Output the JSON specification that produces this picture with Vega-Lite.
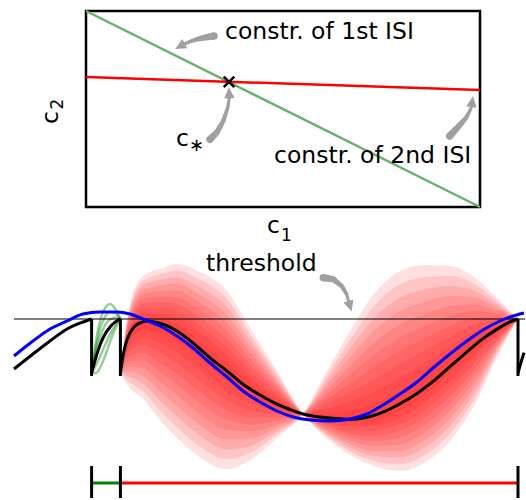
{
"$schema":"https://vega.github.io/schema/vega-lite/v6.json",
"padding":{"left":8,"top":4,"right":0,"bottom":0},
"bounds":"flush",
"spacing":44,
"config":{"font":"DejaVu Sans","view":{"stroke":null}},
"datasets":{
"gline":[{"c1":0,"c2":1},{"c1":1,"c2":0}],
"rline":[{"c1":0,"c2":0.663},{"c1":1,"c2":0.597}],
"cstar":[{"c1":0.363,"c2":0.638}],
"tlabels":[{"c1":0.3528,"c2":0.8571,"label":"constr. of 1st ISI"},{"c1":0.4772,"c2":0.2245,"label":"constr. of 2nd ISI"},{"c1":0.2284,"c2":0.3112,"label":"c"},{"c1":0.4594,"c2":-0.1327,"label":"c"}],
"tsub":[{"c1":0.2805,"c2":0.3112,"label":"∗"}],
"tsub1":[{"c1":0.4949,"c2":-0.1735,"label":"1"}],
"ylab":[{"c1":-0.0718,"c2":0.4235,"label":"c"}],
"ylab2":[{"c1":-0.0596,"c2":0.4974,"label":"2"}],
"tarrows":[
{"a":1,"o":1,"c1":0.3249,"c2":0.8724},{"a":1,"o":2,"c1":0.302,"c2":0.8648},{"a":1,"o":3,"c1":0.2792,"c2":0.8546},{"a":1,"o":4,"c1":0.2614,"c2":0.8418},{"a":1,"o":5,"c1":0.2487,"c2":0.8316},
{"a":2,"o":1,"c1":0.3147,"c2":0.3454},{"a":2,"o":2,"c1":0.3317,"c2":0.3791},{"a":2,"o":3,"c1":0.3485,"c2":0.4388},{"a":2,"o":4,"c1":0.3596,"c2":0.5066},{"a":2,"o":5,"c1":0.3637,"c2":0.5561},
{"a":3,"o":1,"c1":0.9231,"c2":0.3622},{"a":3,"o":2,"c1":0.9442,"c2":0.4082},{"a":3,"o":3,"c1":0.9645,"c2":0.4541},{"a":3,"o":4,"c1":0.9739,"c2":0.4898},{"a":3,"o":5,"c1":0.9784,"c2":0.5102}],
"h1":[{"c1":0.2386,"c2":0.8202}],
"h2":[{"c1":0.3633,"c2":0.5829}],
"h3":[{"c1":0.9803,"c2":0.5383}],
"h4":[{"t":84,"v":16.2}],
"barrow":[{"a":4,"o":1,"t":77.33,"v":23.33},{"a":4,"o":2,"t":79.83,"v":22.93},{"a":4,"o":3,"t":81.93,"v":21.25},{"a":4,"o":4,"t":83.18,"v":19.18},{"a":4,"o":5,"t":83.6,"v":17.6}],
"blabels":[{"t":48,"v":25,"label":"threshold"}],
"thr":[{"t":0,"t2":127.8,"v":13}],
"gbar":[{"t":19.4,"t2":26.6,"v":-28}],
"rbar":[{"t":26.6,"t2":126,"v":-28}],
"ticks":[{"t":19.4,"v":-23.75,"v2":-31.75},{"t":26.6,"v":-23.75,"v2":-31.75},{"t":126,"v":-23.75,"v2":-31.75}],
"resets":[{"t":19.4,"v":13,"v2":-1.25},{"t":26.6,"v":13,"v2":-1.25},{"t":126,"v":13,"v2":-1.25}],
"blue":[{"t":0,"v":3.75},{"t":4.75,"v":7.5},{"t":9,"v":10.5},{"t":13.25,"v":12.5},{"t":17.25,"v":14.25},{"t":21.5,"v":14.75},{"t":25.75,"v":14.75},{"t":29,"v":14.25},{"t":32.25,"v":13},{"t":36.5,"v":11.25},{"t":40.75,"v":8.75},{"t":44.75,"v":5.75},{"t":49,"v":2},{"t":53.25,"v":-1.5},{"t":57.25,"v":-5},{"t":61.5,"v":-7.75},{"t":65.75,"v":-10},{"t":69.75,"v":-11.5},{"t":74,"v":-12.25},{"t":79,"v":-12.5},{"t":84,"v":-12},{"t":88.25,"v":-10.75},{"t":92.25,"v":-8.5},{"t":96.5,"v":-5.75},{"t":100.75,"v":-2.75},{"t":104.75,"v":0.75},{"t":109,"v":4.25},{"t":113.25,"v":7.5},{"t":117.25,"v":10.25},{"t":121.5,"v":12.5},{"t":124.75,"v":13.75},{"t":127.5,"v":14.5}],
"black":[
{"s":1,"t":0,"v":0.5},{"s":1,"t":4.75,"v":4.25},{"s":1,"t":9,"v":7.5},{"s":1,"t":13.25,"v":10.5},{"s":1,"t":17.25,"v":12.25},{"s":1,"t":19.4,"v":13},
{"s":2,"t":19.4,"v":-0.5},{"s":2,"t":20.5,"v":3.5},{"s":2,"t":21.5,"v":6.5},{"s":2,"t":22.5,"v":8.75},{"s":2,"t":24,"v":11},{"s":2,"t":25.5,"v":12.4},{"s":2,"t":26.6,"v":13},
{"s":3,"t":26.6,"v":-0.5},{"s":3,"t":27.25,"v":3.75},{"s":3,"t":28,"v":7},{"s":3,"t":29,"v":9.5},{"s":3,"t":30.25,"v":11.25},{"s":3,"t":31.75,"v":12.1},{"s":3,"t":33.25,"v":12.5},{"s":3,"t":34.75,"v":12.3},{"s":3,"t":37.75,"v":11.5},{"s":3,"t":40.75,"v":10},{"s":3,"t":44.75,"v":7},{"s":3,"t":49,"v":3.3},{"s":3,"t":53.25,"v":0},{"s":3,"t":57.25,"v":-3.3},{"s":3,"t":61.5,"v":-6},{"s":3,"t":65.75,"v":-8.3},{"s":3,"t":69.75,"v":-9.9},{"s":3,"t":72.25,"v":-10.75},{"s":3,"t":76.5,"v":-11.5},{"s":3,"t":80.25,"v":-11.9},{"s":3,"t":84,"v":-12.1},{"s":3,"t":88.25,"v":-11.6},{"s":3,"t":92.25,"v":-10.3},{"s":3,"t":96.5,"v":-8.2},{"s":3,"t":100.75,"v":-5.6},{"s":3,"t":104.75,"v":-2.6},{"s":3,"t":109,"v":1.1},{"s":3,"t":113.25,"v":4.8},{"s":3,"t":117.25,"v":8.1},{"s":3,"t":121.5,"v":10.9},{"s":3,"t":124,"v":12.3},{"s":3,"t":126,"v":13},
{"s":4,"t":126,"v":-0.5},{"s":4,"t":127,"v":3},{"s":4,"t":127.5,"v":4.6}],
"green":[
{"g":1,"t":19.4,"v":-0.5},{"g":1,"t":20.5,"v":7.5},{"g":1,"t":21.5,"v":12.5},{"g":1,"t":22.5,"v":15.25},{"g":1,"t":24,"v":16.75},{"g":1,"t":25.5,"v":15.25},{"g":1,"t":26.6,"v":13},
{"g":2,"t":19.4,"v":-0.5},{"g":2,"t":20.5,"v":6.15},{"g":2,"t":21.5,"v":10.5},{"g":2,"t":22.5,"v":13.05},{"g":2,"t":24,"v":14.8},{"g":2,"t":25.5,"v":14.3},{"g":2,"t":26.6,"v":13},
{"g":3,"t":19.4,"v":-0.5},{"g":3,"t":20.5,"v":4.8},{"g":3,"t":21.5,"v":8.5},{"g":3,"t":22.5,"v":10.9},{"g":3,"t":24,"v":12.9},{"g":3,"t":25.5,"v":13.35},{"g":3,"t":26.6,"v":13},
{"g":4,"t":19.4,"v":-0.5},{"g":4,"t":20.5,"v":1.5},{"g":4,"t":21.5,"v":3.6},{"g":4,"t":22.5,"v":5.9},{"g":4,"t":24,"v":9.1},{"g":4,"t":25.5,"v":11.7},{"g":4,"t":26.6,"v":13},
{"g":5,"t":19.4,"v":-0.5},{"g":5,"t":20.5,"v":-0.5},{"g":5,"t":21.5,"v":0.75},{"g":5,"t":22.5,"v":3},{"g":5,"t":24,"v":7.25},{"g":5,"t":25.5,"v":11},{"g":5,"t":26.6,"v":13}],
"fan":[
{"k":"A1","t":26.6,"v":-0.5,"b":-0.5},{"k":"A1","t":28.5,"v":9.1,"b":8.5},{"k":"A1","t":32.25,"v":13.4,"b":12.25},{"k":"A1","t":36.5,"v":13.13,"b":11.75},{"k":"A1","t":40.75,"v":11.68,"b":10},{"k":"A1","t":46,"v":7.9,"b":6},{"k":"A1","t":53.25,"v":2,"b":0},{"k":"A1","t":59.5,"v":-3.28,"b":-4.75},{"k":"A1","t":65.75,"v":-7.43,"b":-8.25},{"k":"A1","t":72.25,"v":-10.75,"b":-10.75},{"k":"A1","t":78.5,"v":-12.28,"b":-11.75},{"k":"A1","t":84,"v":-12.9,"b":-12},{"k":"A1","t":90,"v":-12.5,"b":-11.25},{"k":"A1","t":96.5,"v":-9.93,"b":-8.25},{"k":"A1","t":102.5,"v":-6.13,"b":-4.25},{"k":"A1","t":109,"v":-0.63,"b":1.25},{"k":"A1","t":115,"v":4.98,"b":6.5},{"k":"A1","t":121.5,"v":10.18,"b":10.75},{"k":"A1","t":126,"v":13,"b":13},
{"k":"A2","t":26.6,"v":-0.5,"b":-0.5},{"k":"A2","t":28.5,"v":9.7,"b":8.5},{"k":"A2","t":32.25,"v":14.55,"b":12.25},{"k":"A2","t":36.5,"v":14.5,"b":11.75},{"k":"A2","t":40.75,"v":13.35,"b":10},{"k":"A2","t":46,"v":9.8,"b":6},{"k":"A2","t":53.25,"v":4,"b":0},{"k":"A2","t":59.5,"v":-1.8,"b":-4.75},{"k":"A2","t":65.75,"v":-6.6,"b":-8.25},{"k":"A2","t":72.25,"v":-10.75,"b":-10.75},{"k":"A2","t":78.5,"v":-12.8,"b":-11.75},{"k":"A2","t":84,"v":-13.8,"b":-12},{"k":"A2","t":90,"v":-13.75,"b":-11.25},{"k":"A2","t":96.5,"v":-11.6,"b":-8.25},{"k":"A2","t":102.5,"v":-8,"b":-4.25},{"k":"A2","t":109,"v":-2.5,"b":1.25},{"k":"A2","t":115,"v":3.45,"b":6.5},{"k":"A2","t":121.5,"v":9.6,"b":10.75},{"k":"A2","t":126,"v":13,"b":13},
{"k":"A3","t":26.6,"v":-0.5,"b":-0.5},{"k":"A3","t":28.5,"v":10.3,"b":8.5},{"k":"A3","t":32.25,"v":15.7,"b":12.25},{"k":"A3","t":36.5,"v":15.88,"b":11.75},{"k":"A3","t":40.75,"v":15.03,"b":10},{"k":"A3","t":46,"v":11.7,"b":6},{"k":"A3","t":53.25,"v":6,"b":0},{"k":"A3","t":59.5,"v":-0.33,"b":-4.75},{"k":"A3","t":65.75,"v":-5.78,"b":-8.25},{"k":"A3","t":72.25,"v":-10.75,"b":-10.75},{"k":"A3","t":78.5,"v":-13.33,"b":-11.75},{"k":"A3","t":84,"v":-14.7,"b":-12},{"k":"A3","t":90,"v":-15,"b":-11.25},{"k":"A3","t":96.5,"v":-13.28,"b":-8.25},{"k":"A3","t":102.5,"v":-9.88,"b":-4.25},{"k":"A3","t":109,"v":-4.38,"b":1.25},{"k":"A3","t":115,"v":1.93,"b":6.5},{"k":"A3","t":121.5,"v":9.03,"b":10.75},{"k":"A3","t":126,"v":13,"b":13},
{"k":"A4","t":26.6,"v":-0.5,"b":-0.5},{"k":"A4","t":28.5,"v":10.9,"b":8.5},{"k":"A4","t":32.25,"v":16.85,"b":12.25},{"k":"A4","t":36.5,"v":17.25,"b":11.75},{"k":"A4","t":40.75,"v":16.7,"b":10},{"k":"A4","t":46,"v":13.6,"b":6},{"k":"A4","t":53.25,"v":8,"b":0},{"k":"A4","t":59.5,"v":1.15,"b":-4.75},{"k":"A4","t":65.75,"v":-4.95,"b":-8.25},{"k":"A4","t":72.25,"v":-10.75,"b":-10.75},{"k":"A4","t":78.5,"v":-13.85,"b":-11.75},{"k":"A4","t":84,"v":-15.6,"b":-12},{"k":"A4","t":90,"v":-16.25,"b":-11.25},{"k":"A4","t":96.5,"v":-14.95,"b":-8.25},{"k":"A4","t":102.5,"v":-11.75,"b":-4.25},{"k":"A4","t":109,"v":-6.25,"b":1.25},{"k":"A4","t":115,"v":0.4,"b":6.5},{"k":"A4","t":121.5,"v":8.45,"b":10.75},{"k":"A4","t":126,"v":13,"b":13},
{"k":"A5","t":26.6,"v":-0.5,"b":-0.5},{"k":"A5","t":28.5,"v":11.5,"b":8.5},{"k":"A5","t":32.25,"v":18,"b":12.25},{"k":"A5","t":36.5,"v":18.63,"b":11.75},{"k":"A5","t":40.75,"v":18.38,"b":10},{"k":"A5","t":46,"v":15.5,"b":6},{"k":"A5","t":53.25,"v":10,"b":0},{"k":"A5","t":59.5,"v":2.63,"b":-4.75},{"k":"A5","t":65.75,"v":-4.13,"b":-8.25},{"k":"A5","t":72.25,"v":-10.75,"b":-10.75},{"k":"A5","t":78.5,"v":-14.38,"b":-11.75},{"k":"A5","t":84,"v":-16.5,"b":-12},{"k":"A5","t":90,"v":-17.5,"b":-11.25},{"k":"A5","t":96.5,"v":-16.63,"b":-8.25},{"k":"A5","t":102.5,"v":-13.63,"b":-4.25},{"k":"A5","t":109,"v":-8.13,"b":1.25},{"k":"A5","t":115,"v":-1.13,"b":6.5},{"k":"A5","t":121.5,"v":7.88,"b":10.75},{"k":"A5","t":126,"v":13,"b":13},
{"k":"A6","t":26.6,"v":-0.5,"b":-0.5},{"k":"A6","t":28.5,"v":12.1,"b":8.5},{"k":"A6","t":32.25,"v":19.15,"b":12.25},{"k":"A6","t":36.5,"v":20,"b":11.75},{"k":"A6","t":40.75,"v":20.05,"b":10},{"k":"A6","t":46,"v":17.4,"b":6},{"k":"A6","t":53.25,"v":12,"b":0},{"k":"A6","t":59.5,"v":4.1,"b":-4.75},{"k":"A6","t":65.75,"v":-3.3,"b":-8.25},{"k":"A6","t":72.25,"v":-10.75,"b":-10.75},{"k":"A6","t":78.5,"v":-14.9,"b":-11.75},{"k":"A6","t":84,"v":-17.4,"b":-12},{"k":"A6","t":90,"v":-18.75,"b":-11.25},{"k":"A6","t":96.5,"v":-18.3,"b":-8.25},{"k":"A6","t":102.5,"v":-15.5,"b":-4.25},{"k":"A6","t":109,"v":-10,"b":1.25},{"k":"A6","t":115,"v":-2.65,"b":6.5},{"k":"A6","t":121.5,"v":7.3,"b":10.75},{"k":"A6","t":126,"v":13,"b":13},
{"k":"A7","t":26.6,"v":-0.5,"b":-0.5},{"k":"A7","t":28.5,"v":12.7,"b":8.5},{"k":"A7","t":32.25,"v":20.3,"b":12.25},{"k":"A7","t":36.5,"v":21.38,"b":11.75},{"k":"A7","t":40.75,"v":21.73,"b":10},{"k":"A7","t":46,"v":19.3,"b":6},{"k":"A7","t":53.25,"v":14,"b":0},{"k":"A7","t":59.5,"v":5.58,"b":-4.75},{"k":"A7","t":65.75,"v":-2.48,"b":-8.25},{"k":"A7","t":72.25,"v":-10.75,"b":-10.75},{"k":"A7","t":78.5,"v":-15.43,"b":-11.75},{"k":"A7","t":84,"v":-18.3,"b":-12},{"k":"A7","t":90,"v":-20,"b":-11.25},{"k":"A7","t":96.5,"v":-19.98,"b":-8.25},{"k":"A7","t":102.5,"v":-17.38,"b":-4.25},{"k":"A7","t":109,"v":-11.88,"b":1.25},{"k":"A7","t":115,"v":-4.18,"b":6.5},{"k":"A7","t":121.5,"v":6.73,"b":10.75},{"k":"A7","t":126,"v":13,"b":13},
{"k":"A8","t":26.6,"v":-0.5,"b":-0.5},{"k":"A8","t":28.5,"v":13.3,"b":8.5},{"k":"A8","t":32.25,"v":21.45,"b":12.25},{"k":"A8","t":36.5,"v":22.75,"b":11.75},{"k":"A8","t":40.75,"v":23.4,"b":10},{"k":"A8","t":46,"v":21.2,"b":6},{"k":"A8","t":53.25,"v":16,"b":0},{"k":"A8","t":59.5,"v":7.05,"b":-4.75},{"k":"A8","t":65.75,"v":-1.65,"b":-8.25},{"k":"A8","t":72.25,"v":-10.75,"b":-10.75},{"k":"A8","t":78.5,"v":-15.95,"b":-11.75},{"k":"A8","t":84,"v":-19.2,"b":-12},{"k":"A8","t":90,"v":-21.25,"b":-11.25},{"k":"A8","t":96.5,"v":-21.65,"b":-8.25},{"k":"A8","t":102.5,"v":-19.25,"b":-4.25},{"k":"A8","t":109,"v":-13.75,"b":1.25},{"k":"A8","t":115,"v":-5.7,"b":6.5},{"k":"A8","t":121.5,"v":6.15,"b":10.75},{"k":"A8","t":126,"v":13,"b":13},
{"k":"A9","t":26.6,"v":-0.5,"b":-0.5},{"k":"A9","t":28.5,"v":13.9,"b":8.5},{"k":"A9","t":32.25,"v":22.6,"b":12.25},{"k":"A9","t":36.5,"v":24.13,"b":11.75},{"k":"A9","t":40.75,"v":25.08,"b":10},{"k":"A9","t":46,"v":23.1,"b":6},{"k":"A9","t":53.25,"v":18,"b":0},{"k":"A9","t":59.5,"v":8.53,"b":-4.75},{"k":"A9","t":65.75,"v":-0.83,"b":-8.25},{"k":"A9","t":72.25,"v":-10.75,"b":-10.75},{"k":"A9","t":78.5,"v":-16.48,"b":-11.75},{"k":"A9","t":84,"v":-20.1,"b":-12},{"k":"A9","t":90,"v":-22.5,"b":-11.25},{"k":"A9","t":96.5,"v":-23.33,"b":-8.25},{"k":"A9","t":102.5,"v":-21.13,"b":-4.25},{"k":"A9","t":109,"v":-15.63,"b":1.25},{"k":"A9","t":115,"v":-7.23,"b":6.5},{"k":"A9","t":121.5,"v":5.58,"b":10.75},{"k":"A9","t":126,"v":13,"b":13},
{"k":"A10","t":26.6,"v":-0.5,"b":-0.5},{"k":"A10","t":28.5,"v":14.5,"b":8.5},{"k":"A10","t":32.25,"v":23.75,"b":12.25},{"k":"A10","t":36.5,"v":25.5,"b":11.75},{"k":"A10","t":40.75,"v":26.75,"b":10},{"k":"A10","t":46,"v":25,"b":6},{"k":"A10","t":53.25,"v":20,"b":0},{"k":"A10","t":59.5,"v":10,"b":-4.75},{"k":"A10","t":65.75,"v":0,"b":-8.25},{"k":"A10","t":72.25,"v":-10.75,"b":-10.75},{"k":"A10","t":78.5,"v":-17,"b":-11.75},{"k":"A10","t":84,"v":-21,"b":-12},{"k":"A10","t":90,"v":-23.75,"b":-11.25},{"k":"A10","t":96.5,"v":-25,"b":-8.25},{"k":"A10","t":102.5,"v":-23,"b":-4.25},{"k":"A10","t":109,"v":-17.5,"b":1.25},{"k":"A10","t":115,"v":-8.75,"b":6.5},{"k":"A10","t":121.5,"v":5,"b":10.75},{"k":"A10","t":126,"v":13,"b":13},
{"k":"B1","t":26.6,"v":-0.5,"b":-0.5},{"k":"B1","t":28.5,"v":7.28,"b":8.5},{"k":"B1","t":32.25,"v":10.33,"b":12.25},{"k":"B1","t":36.5,"v":9.35,"b":11.75},{"k":"B1","t":40.75,"v":7.33,"b":10},{"k":"B1","t":46,"v":3.28,"b":6},{"k":"B1","t":53.25,"v":-2.45,"b":0},{"k":"B1","t":59.5,"v":-6.48,"b":-4.75},{"k":"B1","t":65.75,"v":-9.1,"b":-8.25},{"k":"B1","t":72.25,"v":-10.75,"b":-10.75},{"k":"B1","t":78.5,"v":-10.53,"b":-11.75},{"k":"B1","t":84,"v":-9.8,"b":-12},{"k":"B1","t":90,"v":-8.2,"b":-11.25},{"k":"B1","t":96.5,"v":-4.93,"b":-8.25},{"k":"B1","t":102.5,"v":-1.18,"b":-4.25},{"k":"B1","t":109,"v":3.75,"b":1.25},{"k":"B1","t":115,"v":8.2,"b":6.5},{"k":"B1","t":121.5,"v":11.43,"b":10.75},{"k":"B1","t":126,"v":13,"b":13},
{"k":"B2","t":26.6,"v":-0.5,"b":-0.5},{"k":"B2","t":28.5,"v":6.05,"b":8.5},{"k":"B2","t":32.25,"v":8.4,"b":12.25},{"k":"B2","t":36.5,"v":6.95,"b":11.75},{"k":"B2","t":40.75,"v":4.65,"b":10},{"k":"B2","t":46,"v":0.55,"b":6},{"k":"B2","t":53.25,"v":-4.9,"b":0},{"k":"B2","t":59.5,"v":-8.2,"b":-4.75},{"k":"B2","t":65.75,"v":-9.95,"b":-8.25},{"k":"B2","t":72.25,"v":-10.75,"b":-10.75},{"k":"B2","t":78.5,"v":-9.3,"b":-11.75},{"k":"B2","t":84,"v":-7.6,"b":-12},{"k":"B2","t":90,"v":-5.15,"b":-11.25},{"k":"B2","t":96.5,"v":-1.6,"b":-8.25},{"k":"B2","t":102.5,"v":1.9,"b":-4.25},{"k":"B2","t":109,"v":6.25,"b":1.25},{"k":"B2","t":115,"v":9.9,"b":6.5},{"k":"B2","t":121.5,"v":12.1,"b":10.75},{"k":"B2","t":126,"v":13,"b":13},
{"k":"B3","t":26.6,"v":-0.5,"b":-0.5},{"k":"B3","t":28.5,"v":4.83,"b":8.5},{"k":"B3","t":32.25,"v":6.48,"b":12.25},{"k":"B3","t":36.5,"v":4.55,"b":11.75},{"k":"B3","t":40.75,"v":1.98,"b":10},{"k":"B3","t":46,"v":-2.18,"b":6},{"k":"B3","t":53.25,"v":-7.35,"b":0},{"k":"B3","t":59.5,"v":-9.93,"b":-4.75},{"k":"B3","t":65.75,"v":-10.8,"b":-8.25},{"k":"B3","t":72.25,"v":-10.75,"b":-10.75},{"k":"B3","t":78.5,"v":-8.08,"b":-11.75},{"k":"B3","t":84,"v":-5.4,"b":-12},{"k":"B3","t":90,"v":-2.1,"b":-11.25},{"k":"B3","t":96.5,"v":1.73,"b":-8.25},{"k":"B3","t":102.5,"v":4.98,"b":-4.25},{"k":"B3","t":109,"v":8.75,"b":1.25},{"k":"B3","t":115,"v":11.6,"b":6.5},{"k":"B3","t":121.5,"v":12.78,"b":10.75},{"k":"B3","t":126,"v":13,"b":13},
{"k":"B4","t":26.6,"v":-0.5,"b":-0.5},{"k":"B4","t":28.5,"v":3.6,"b":8.5},{"k":"B4","t":32.25,"v":4.55,"b":12.25},{"k":"B4","t":36.5,"v":2.15,"b":11.75},{"k":"B4","t":40.75,"v":-0.7,"b":10},{"k":"B4","t":46,"v":-4.9,"b":6},{"k":"B4","t":53.25,"v":-9.8,"b":0},{"k":"B4","t":59.5,"v":-11.65,"b":-4.75},{"k":"B4","t":65.75,"v":-11.65,"b":-8.25},{"k":"B4","t":72.25,"v":-10.75,"b":-10.75},{"k":"B4","t":78.5,"v":-6.85,"b":-11.75},{"k":"B4","t":84,"v":-3.2,"b":-12},{"k":"B4","t":90,"v":0.95,"b":-11.25},{"k":"B4","t":96.5,"v":5.05,"b":-8.25},{"k":"B4","t":102.5,"v":8.05,"b":-4.25},{"k":"B4","t":109,"v":11.25,"b":1.25},{"k":"B4","t":115,"v":13.3,"b":6.5},{"k":"B4","t":121.5,"v":13.45,"b":10.75},{"k":"B4","t":126,"v":13,"b":13},
{"k":"B5","t":26.6,"v":-0.5,"b":-0.5},{"k":"B5","t":28.5,"v":2.38,"b":8.5},{"k":"B5","t":32.25,"v":2.63,"b":12.25},{"k":"B5","t":36.5,"v":-0.25,"b":11.75},{"k":"B5","t":40.75,"v":-3.38,"b":10},{"k":"B5","t":46,"v":-7.63,"b":6},{"k":"B5","t":53.25,"v":-12.25,"b":0},{"k":"B5","t":59.5,"v":-13.38,"b":-4.75},{"k":"B5","t":65.75,"v":-12.5,"b":-8.25},{"k":"B5","t":72.25,"v":-10.75,"b":-10.75},{"k":"B5","t":78.5,"v":-5.63,"b":-11.75},{"k":"B5","t":84,"v":-1,"b":-12},{"k":"B5","t":90,"v":4,"b":-11.25},{"k":"B5","t":96.5,"v":8.38,"b":-8.25},{"k":"B5","t":102.5,"v":11.13,"b":-4.25},{"k":"B5","t":109,"v":13.75,"b":1.25},{"k":"B5","t":115,"v":15,"b":6.5},{"k":"B5","t":121.5,"v":14.13,"b":10.75},{"k":"B5","t":126,"v":13,"b":13},
{"k":"B6","t":26.6,"v":-0.5,"b":-0.5},{"k":"B6","t":28.5,"v":1.15,"b":8.5},{"k":"B6","t":32.25,"v":0.7,"b":12.25},{"k":"B6","t":36.5,"v":-2.65,"b":11.75},{"k":"B6","t":40.75,"v":-6.05,"b":10},{"k":"B6","t":46,"v":-10.35,"b":6},{"k":"B6","t":53.25,"v":-14.7,"b":0},{"k":"B6","t":59.5,"v":-15.1,"b":-4.75},{"k":"B6","t":65.75,"v":-13.35,"b":-8.25},{"k":"B6","t":72.25,"v":-10.75,"b":-10.75},{"k":"B6","t":78.5,"v":-4.4,"b":-11.75},{"k":"B6","t":84,"v":1.2,"b":-12},{"k":"B6","t":90,"v":7.05,"b":-11.25},{"k":"B6","t":96.5,"v":11.7,"b":-8.25},{"k":"B6","t":102.5,"v":14.2,"b":-4.25},{"k":"B6","t":109,"v":16.25,"b":1.25},{"k":"B6","t":115,"v":16.7,"b":6.5},{"k":"B6","t":121.5,"v":14.8,"b":10.75},{"k":"B6","t":126,"v":13,"b":13},
{"k":"B7","t":26.6,"v":-0.5,"b":-0.5},{"k":"B7","t":28.5,"v":-0.08,"b":8.5},{"k":"B7","t":32.25,"v":-1.23,"b":12.25},{"k":"B7","t":36.5,"v":-5.05,"b":11.75},{"k":"B7","t":40.75,"v":-8.73,"b":10},{"k":"B7","t":46,"v":-13.08,"b":6},{"k":"B7","t":53.25,"v":-17.15,"b":0},{"k":"B7","t":59.5,"v":-16.83,"b":-4.75},{"k":"B7","t":65.75,"v":-14.2,"b":-8.25},{"k":"B7","t":72.25,"v":-10.75,"b":-10.75},{"k":"B7","t":78.5,"v":-3.18,"b":-11.75},{"k":"B7","t":84,"v":3.4,"b":-12},{"k":"B7","t":90,"v":10.1,"b":-11.25},{"k":"B7","t":96.5,"v":15.03,"b":-8.25},{"k":"B7","t":102.5,"v":17.28,"b":-4.25},{"k":"B7","t":109,"v":18.75,"b":1.25},{"k":"B7","t":115,"v":18.4,"b":6.5},{"k":"B7","t":121.5,"v":15.48,"b":10.75},{"k":"B7","t":126,"v":13,"b":13},
{"k":"B8","t":26.6,"v":-0.5,"b":-0.5},{"k":"B8","t":28.5,"v":-1.3,"b":8.5},{"k":"B8","t":32.25,"v":-3.15,"b":12.25},{"k":"B8","t":36.5,"v":-7.45,"b":11.75},{"k":"B8","t":40.75,"v":-11.4,"b":10},{"k":"B8","t":46,"v":-15.8,"b":6},{"k":"B8","t":53.25,"v":-19.6,"b":0},{"k":"B8","t":59.5,"v":-18.55,"b":-4.75},{"k":"B8","t":65.75,"v":-15.05,"b":-8.25},{"k":"B8","t":72.25,"v":-10.75,"b":-10.75},{"k":"B8","t":78.5,"v":-1.95,"b":-11.75},{"k":"B8","t":84,"v":5.6,"b":-12},{"k":"B8","t":90,"v":13.15,"b":-11.25},{"k":"B8","t":96.5,"v":18.35,"b":-8.25},{"k":"B8","t":102.5,"v":20.35,"b":-4.25},{"k":"B8","t":109,"v":21.25,"b":1.25},{"k":"B8","t":115,"v":20.1,"b":6.5},{"k":"B8","t":121.5,"v":16.15,"b":10.75},{"k":"B8","t":126,"v":13,"b":13},
{"k":"B9","t":26.6,"v":-0.5,"b":-0.5},{"k":"B9","t":28.5,"v":-2.53,"b":8.5},{"k":"B9","t":32.25,"v":-5.08,"b":12.25},{"k":"B9","t":36.5,"v":-9.85,"b":11.75},{"k":"B9","t":40.75,"v":-14.08,"b":10},{"k":"B9","t":46,"v":-18.53,"b":6},{"k":"B9","t":53.25,"v":-22.05,"b":0},{"k":"B9","t":59.5,"v":-20.28,"b":-4.75},{"k":"B9","t":65.75,"v":-15.9,"b":-8.25},{"k":"B9","t":72.25,"v":-10.75,"b":-10.75},{"k":"B9","t":78.5,"v":-0.73,"b":-11.75},{"k":"B9","t":84,"v":7.8,"b":-12},{"k":"B9","t":90,"v":16.2,"b":-11.25},{"k":"B9","t":96.5,"v":21.68,"b":-8.25},{"k":"B9","t":102.5,"v":23.43,"b":-4.25},{"k":"B9","t":109,"v":23.75,"b":1.25},{"k":"B9","t":115,"v":21.8,"b":6.5},{"k":"B9","t":121.5,"v":16.83,"b":10.75},{"k":"B9","t":126,"v":13,"b":13},
{"k":"B10","t":26.6,"v":-0.5,"b":-0.5},{"k":"B10","t":28.5,"v":-3.75,"b":8.5},{"k":"B10","t":32.25,"v":-7,"b":12.25},{"k":"B10","t":36.5,"v":-12.25,"b":11.75},{"k":"B10","t":40.75,"v":-16.75,"b":10},{"k":"B10","t":46,"v":-21.25,"b":6},{"k":"B10","t":53.25,"v":-24.5,"b":0},{"k":"B10","t":59.5,"v":-22,"b":-4.75},{"k":"B10","t":65.75,"v":-16.75,"b":-8.25},{"k":"B10","t":72.25,"v":-10.75,"b":-10.75},{"k":"B10","t":78.5,"v":0.5,"b":-11.75},{"k":"B10","t":84,"v":10,"b":-12},{"k":"B10","t":90,"v":19.25,"b":-11.25},{"k":"B10","t":96.5,"v":25,"b":-8.25},{"k":"B10","t":102.5,"v":26.5,"b":-4.25},{"k":"B10","t":109,"v":26.25,"b":1.25},{"k":"B10","t":115,"v":23.5,"b":6.5},{"k":"B10","t":121.5,"v":17.5,"b":10.75},{"k":"B10","t":126,"v":13,"b":13}]
},
"vconcat":[
{"width":394,"height":196,"view":{"stroke":"black","strokeWidth":2.5},
"encoding":{
"x":{"field":"c1","type":"quantitative","scale":{"domain":[0,1],"nice":false,"zero":false},"axis":null},
"y":{"field":"c2","type":"quantitative","scale":{"domain":[0,1],"nice":false,"zero":false},"axis":null}},
"layer":[
{"data":{"name":"gline"},"mark":{"type":"line","color":"#66b366","strokeWidth":2.5}},
{"data":{"name":"rline"},"mark":{"type":"line","color":"#ff0000","strokeWidth":2.5}},
{"data":{"name":"cstar"},"mark":{"type":"point","shape":"M-1,-1L1,1M-1,1L1,-1","filled":false,"color":"black","strokeWidth":2.5,"size":110,"opacity":1}},
{"data":{"name":"tlabels"},"mark":{"type":"text","fontSize":23.5,"align":"left","baseline":"alphabetic","color":"black"},"encoding":{"text":{"field":"label"}}},
{"data":{"name":"tsub"},"mark":{"type":"text","fontSize":18,"align":"center","baseline":"middle","color":"black"},"encoding":{"text":{"field":"label"}}},
{"data":{"name":"tsub1"},"mark":{"type":"text","fontSize":17,"align":"left","baseline":"alphabetic","color":"black"},"encoding":{"text":{"field":"label"}}},
{"data":{"name":"ylab"},"mark":{"type":"text","fontSize":23.5,"align":"left","baseline":"alphabetic","angle":270,"color":"black"},"encoding":{"text":{"field":"label"}}},
{"data":{"name":"ylab2"},"mark":{"type":"text","fontSize":17,"align":"left","baseline":"alphabetic","angle":270,"color":"black"},"encoding":{"text":{"field":"label"}}},
{"data":{"name":"tarrows"},"mark":{"type":"trail","color":"#a0a0a0"},"encoding":{"detail":{"field":"a","type":"nominal"},"order":{"field":"o","type":"quantitative"},"size":{"field":"o","type":"quantitative","scale":{"type":"threshold","domain":[1.5,2.5,3.5,4.5],"range":[7.5,6,4.5,3.5,3]},"legend":null}}},
{"data":{"name":"h1"},"mark":{"type":"point","shape":"M0,-1L0.95,1L-0.95,1Z","filled":true,"color":"#a0a0a0","opacity":1,"size":120,"angle":241}},
{"data":{"name":"h2"},"mark":{"type":"point","shape":"M0,-1L0.95,1L-0.95,1Z","filled":true,"color":"#a0a0a0","opacity":1,"size":120,"angle":358}},
{"data":{"name":"h3"},"mark":{"type":"point","shape":"M0,-1L0.95,1L-0.95,1Z","filled":true,"color":"#a0a0a0","opacity":1,"size":120,"angle":8}}
]},
{"width":440,"height":250,
"encoding":{
"x":{"field":"t","type":"quantitative","scale":{"domain":[18,128],"nice":false,"zero":false},"axis":null},
"y":{"field":"v","type":"quantitative","scale":{"domain":[-32.5,30],"nice":false,"zero":false},"axis":null}},
"layer":[
{"data":{"name":"fan"},"mark":{"type":"area","color":"#ff0000","opacity":0.12,"interpolate":"monotone"},"encoding":{"y2":{"field":"b"},"detail":{"field":"k","type":"nominal"}}},
{"data":{"name":"green"},"mark":{"type":"line","color":"#008000","opacity":0.4,"strokeWidth":2.5,"interpolate":"monotone"},"encoding":{"detail":{"field":"g","type":"nominal"}}},
{"data":{"name":"thr"},"mark":{"type":"rule","color":"black","strokeWidth":1.2},"encoding":{"x2":{"field":"t2"}}},
{"data":{"name":"gbar"},"mark":{"type":"rule","color":"#008000","strokeWidth":3},"encoding":{"x2":{"field":"t2"}}},
{"data":{"name":"rbar"},"mark":{"type":"rule","color":"#ff0000","strokeWidth":3},"encoding":{"x2":{"field":"t2"}}},
{"data":{"name":"ticks"},"mark":{"type":"rule","color":"black","strokeWidth":3},"encoding":{"y2":{"field":"v2"}}},
{"data":{"name":"black"},"mark":{"type":"line","color":"black","strokeWidth":3,"interpolate":"monotone"},"encoding":{"detail":{"field":"s","type":"nominal"}}},
{"data":{"name":"resets"},"mark":{"type":"rule","color":"black","strokeWidth":3},"encoding":{"y2":{"field":"v2"}}},
{"data":{"name":"blue"},"mark":{"type":"line","color":"#0000ff","strokeWidth":3,"interpolate":"monotone"}},
{"data":{"name":"blabels"},"mark":{"type":"text","fontSize":23.5,"align":"left","baseline":"alphabetic","color":"black"},"encoding":{"text":{"field":"label"}}},
{"data":{"name":"barrow"},"mark":{"type":"trail","color":"#a0a0a0"},"encoding":{"detail":{"field":"a","type":"nominal"},"order":{"field":"o","type":"quantitative"},"size":{"field":"o","type":"quantitative","scale":{"type":"threshold","domain":[1.5,2.5,3.5,4.5],"range":[7.5,6,4.5,3.5,3]},"legend":null}}},
{"data":{"name":"h4"},"mark":{"type":"point","shape":"M0,-1L0.95,1L-0.95,1Z","filled":true,"color":"#a0a0a0","opacity":1,"size":120,"angle":163}}
]}
]
}
